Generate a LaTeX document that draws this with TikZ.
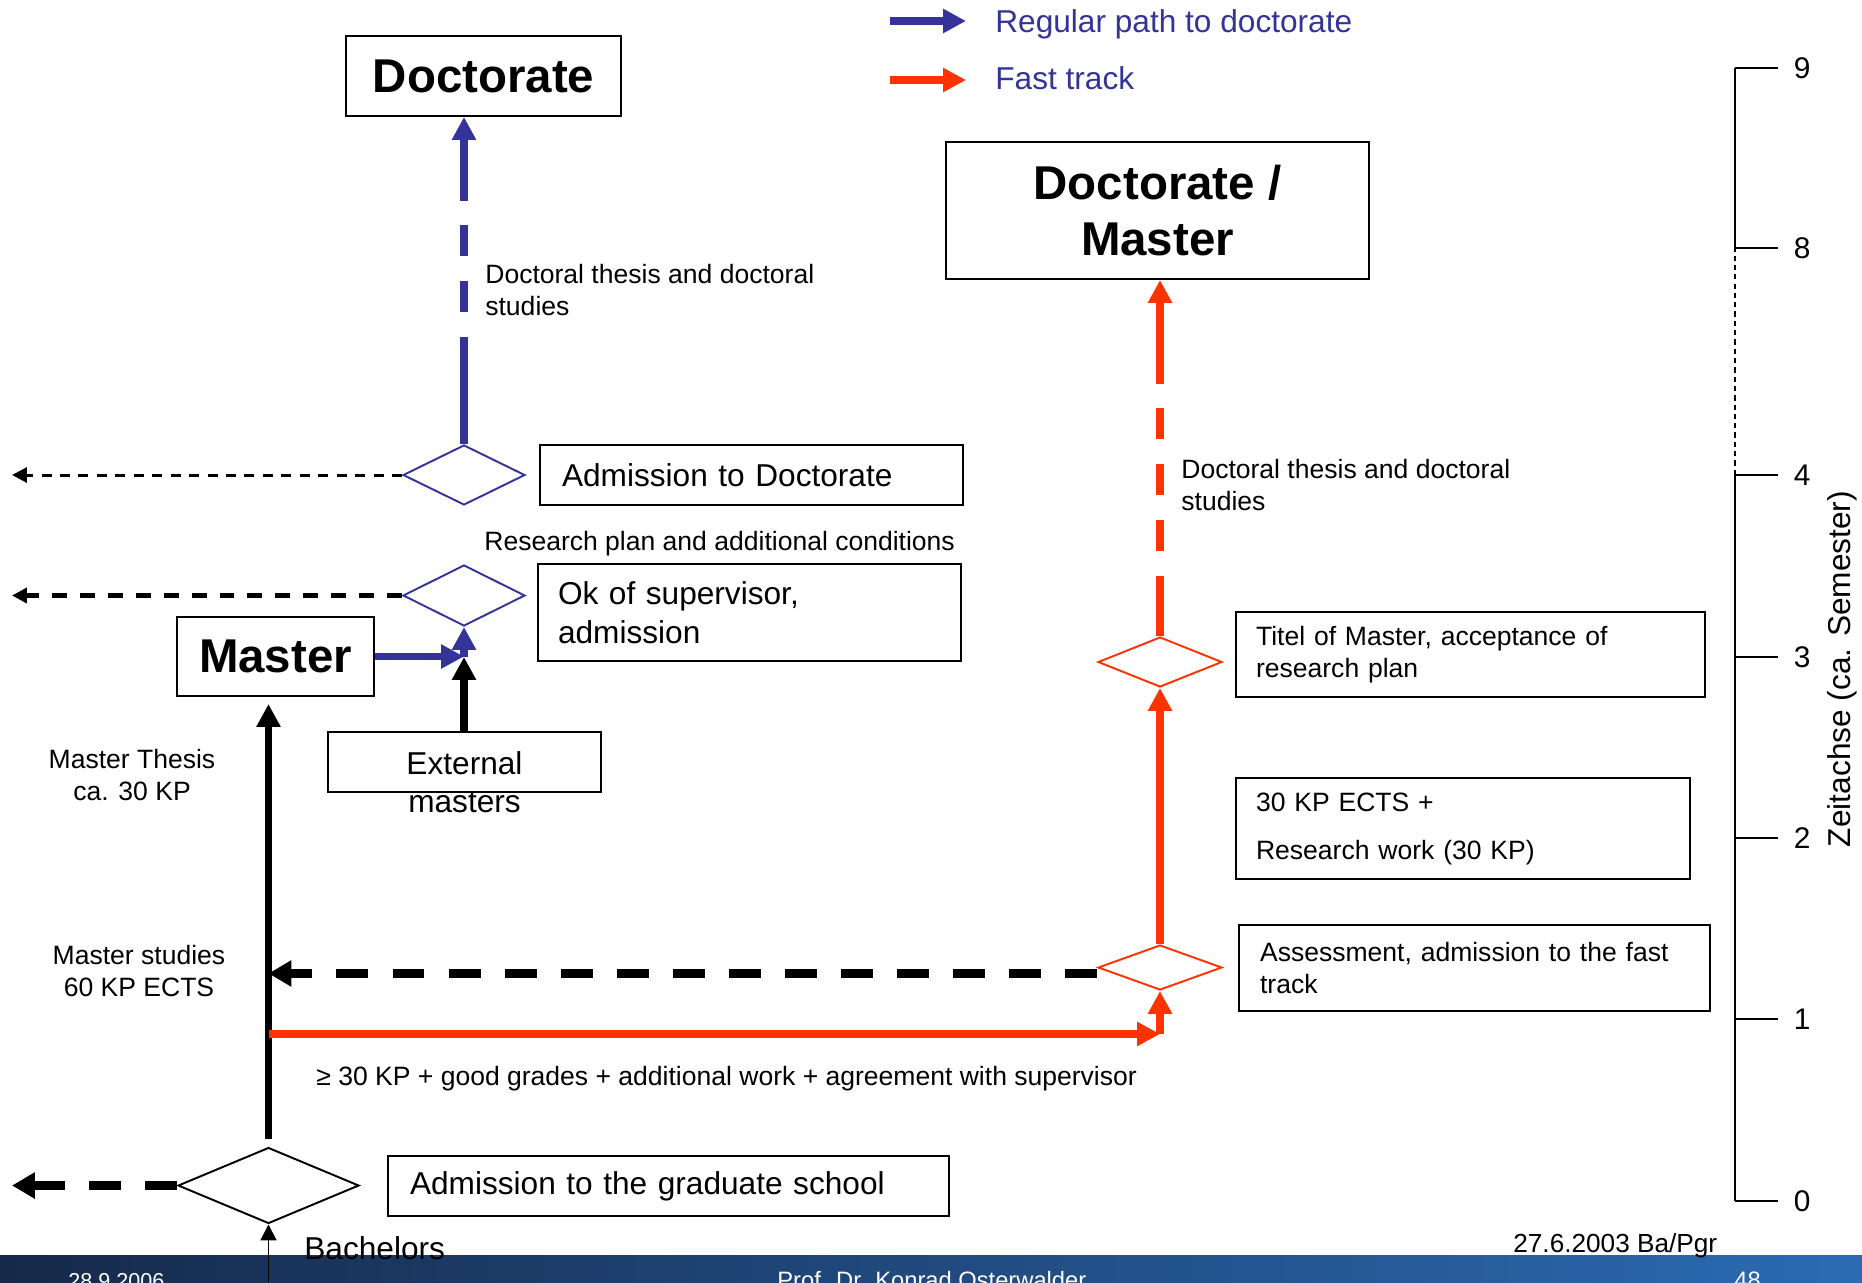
\documentclass[tikz,border=0pt]{standalone}
\usepackage{fontspec}
\setmainfont{Liberation Sans}
\usepackage{tikz}
\usetikzlibrary{arrows.meta,shapes.geometric,positioning}
\definecolor{regblue}{HTML}{333399}
\definecolor{fastred}{HTML}{FF3300}
\definecolor{barleft}{HTML}{16294A}
\definecolor{barright}{HTML}{2B6BB3}

\begin{document}
\begin{tikzpicture}
[x=0.02cm,y=-0.02cm]
\tikzset{
	box/.style = {draw, line width=1.1pt, inner ysep=0pt},
	bigbox/.style = {box, font=\fontsize{27}{32.4}\selectfont\bfseries, align=center},
	txtbox/.style = {box, font=\fontsize{18}{22}\selectfont, align=left},
	smallbox/.style = {box, font=\fontsize{15.1}{18.4}\selectfont, align=left},
	note/.style = {inner sep=0pt, font=\fontsize{15.1}{18.6}\selectfont},
	gate/.style = {diamond, draw, line width=1.1pt, inner sep=0pt},
	regpath/.style = {regblue, line width=4.3pt, -{Triangle[length=13pt,width=13pt]}},
	fastpath/.style = {fastred, line width=4.3pt, -{Triangle[length=13pt,width=13pt]}},
	blkpath/.style = {black, line width=4.3pt, -{Triangle[length=13pt,width=13pt]}},
	gap/.style = {dash pattern=on 17.6pt off 14.2pt, dash phase=17.6pt},
	exitA/.style = {line width=1.7pt, dash pattern=on 5.7pt off 4.8pt, -{Triangle[length=8.5pt,width=8.5pt]}},
	exitB/.style = {line width=2.3pt, dash pattern=on 8.5pt off 7.4pt, -{Triangle[length=8.5pt,width=8.5pt]}},
	exitC/.style = {line width=4.8pt, dash pattern=on 18.2pt off 13.7pt, -{Triangle[length=13pt,width=14.2pt]}}
}
\useasboundingbox (0,0) rectangle (1862,1282);

\shade[left color=barleft, right color=barright] (0,1255) rectangle (1862,1282);
\begin{scope}
	\clip (0,1255) rectangle (1862,1282);
	\node (fDate) [anchor=base west, inner sep=0pt, white, font=\fontsize{12.3}{15}\selectfont] at (68,1288) {28.9.2006};
	\node (fName) [anchor=base west, inner sep=0pt, white, font=\fontsize{13.5}{16}\selectfont] at (777,1288) {Prof. Dr. Konrad Osterwalder};
	\node (fPage) [anchor=base west, inner sep=0pt, white, font=\fontsize{13.5}{16}\selectfont] at (1734,1288) {48};
\end{scope}

\node (doc) [bigbox, minimum width=5.5cm, minimum height=1.6cm] at (483.5,76) {Doctorate};
\node (docm) [bigbox, minimum width=8.46cm, minimum height=2.74cm] at (1157.5,210.5) {Doctorate /\\Master};
\node (master) [bigbox, minimum width=3.94cm, minimum height=1.58cm] at (275.5,656.5) {Master};

\node (admD) [txtbox, text width=7.58cm, inner xsep=0.44cm, minimum height=1.2cm] at (751.5,475) {Admission to Doctorate};
\node (okS) [txtbox, text width=7.66cm, inner xsep=0.4cm, minimum height=1.94cm] at (749.5,612.5) {Ok of supervisor,\\admission};
\node (ext) [box, minimum width=5.46cm, minimum height=1.2cm] at (464.5,762) {};
\node (extT) [inner sep=0pt, font=\fontsize{18}{21.6}\selectfont, align=center] at (464.5,782) {External\\masters};
\node (admG) [txtbox, text width=10.34cm, inner xsep=0.44cm, minimum height=1.2cm] at (668.5,1186) {Admission to the graduate school};

\node (titel) [smallbox, text width=8.58cm, inner xsep=0.4cm, minimum height=1.7cm] at (1470.5,654.5) {Titel of Master, acceptance of\\research plan};
\node (kp) [smallbox, text width=8.28cm, inner xsep=0.4cm, minimum height=2.02cm] at (1463,828.5) {30 KP ECTS +\\[8.9pt]Research work (30 KP)};
\node (assess) [smallbox, text width=8.58cm, inner xsep=0.42cm, minimum height=1.72cm] at (1474.5,968) {Assessment, admission to the fast\\track};

\node (dA) [gate, regblue, minimum width=2.44cm, minimum height=1.2cm] at (464,475) {};
\node (dB) [gate, regblue, minimum width=2.44cm, minimum height=1.22cm] at (464,595.5) {};
\node (dG) [gate, minimum width=3.62cm, minimum height=1.52cm] at (268.5,1185.5) {};
\node (rT) [gate, fastred, minimum width=2.48cm, minimum height=1cm] at (1160,662) {};
\node (rB) [gate, fastred, minimum width=2.48cm, minimum height=0.9cm] at (1160,967.5) {};

\coordinate (jn) at (464,657);
\coordinate (b1) at (464,337);
\coordinate (b2) at (464,200);
\coordinate (r1) at (1160,576);
\coordinate (r2) at (1160,383);
\coordinate (rj) at (1160,1034);
\coordinate (rs) at (268.5,1034);
\coordinate (bach) at (268.5,1282);
\coordinate (edge) at (12,0);

\draw [regpath, -] (dA.north) -- (b1);
\draw [regpath, -, gap] (b1) -- (b2);
\draw [regpath] (b2) -- (doc.south -| b2);
\draw [regpath] (jn) -- (dB.south);
\draw [regpath] (master.east) -- (master.east -| jn);
\draw [blkpath] (ext.north -| jn) -- (jn);
\draw [blkpath, shorten <=4.5pt, shorten >=4pt] (dG.north) -- (dG.north |- master.south);
\draw [line width=1.1pt, -{Triangle[length=9pt,width=9pt]}] (bach) -- (dG.south);

\draw [fastpath, -] (rT.north) -- (r1);
\draw [fastpath, -, gap] (r1) -- (r2);
\draw [fastpath] (r2) -- (docm.south -| r2);
\draw [fastpath] (rB.north) -- (rT.south);
\draw [fastpath] (rs) -- (rj);
\draw [fastpath] (rj) -- (rB.south);

\draw [exitA] (dA.west) -- (dA.west -| edge);
\draw [exitB] (dB.west) -- (dB.west -| edge);
\draw [exitC] (dG.west) -- (dG.west -| edge);
\draw [exitC] ([yshift=-3.4pt]rB.west) -- ([yshift=-3.4pt]rB.west -| rs);

\node (thesisReg) [note, anchor=west, align=left] at (485,290) {Doctoral thesis and doctoral\\studies};
\node (thesisFast) [note, anchor=west, align=left] at (1181,485) {Doctoral thesis and doctoral\\studies};
\node (resPlan) [note, anchor=base west] at (484,550) {Research plan and additional conditions};
\node (mThesis) [note, align=center] at (132,775) {Master Thesis\\ca. 30 KP};
\node (mStudies) [note, align=center] at (139,971) {Master studies\\60 KP ECTS};
\node (cond) [note, anchor=base west] at (316,1085) {≥ 30 KP + good grades + additional work + agreement with supervisor};
\node (bachT) [anchor=base west, inner sep=0pt, font=\fontsize{18}{22}\selectfont] at (304,1259) {Bachelors};
\node (date) [anchor=base west, inner sep=0pt, font=\fontsize{14.9}{17}\selectfont] at (1513,1252) {27.6.2003 Ba/Pgr};

\node (legReg) [anchor=base west, inner sep=0pt, regblue, font=\fontsize{18}{22}\selectfont] at (995,32) {Regular path to doctorate};
\node (legFast) [anchor=base west, inner sep=0pt, regblue, font=\fontsize{18}{22}\selectfont] at (995,89) {Fast track};
\coordinate (la) at (890,21);
\coordinate (lb) at (890,80);
\draw [regpath, line width=4.6pt] (la) -- (966,21);
\draw [fastpath, line width=4.6pt] (lb) -- (966,80);

\draw [line width=1.4pt] (1735,1201) -- (1735,475);
\draw [line width=1.5pt, dash pattern=on 3pt off 2.3pt] (1735,475) -- (1735,248);
\draw [line width=1.4pt] (1735,248) -- (1735,68);
\foreach \t/\y in {0/1201,1/1019,2/838,3/657,4/475,8/248,9/68}
	\draw [line width=1.1pt] (1735,\y) -- (1778,\y) node (tk\t) [anchor=west, inner sep=0pt, xshift=8.5pt, font=\fontsize{17}{20}\selectfont] {\t};
\node (axisT) [rotate=90, inner sep=0pt, font=\fontsize{18}{22}\selectfont] at (1842,669) {Zeitachse (ca. Semester)};
\end{tikzpicture}
\end{document}
